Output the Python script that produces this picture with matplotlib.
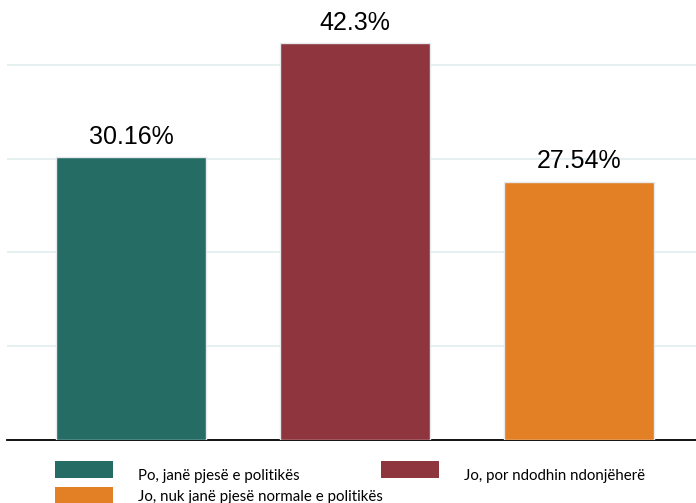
import matplotlib.pyplot as plt
from matplotlib.patches import Patch

# te dhenat
kategorite = ["Po, janë pjesë e politikës", "Jo, por ndodhin ndonjëherë",
              "Jo, nuk janë pjesë normale e politikës"]
vlerat = [30.16, 42.3, 27.54]
etiketat = ["30.16%", "42.3%", "27.54%"]
ngjyrat = ["#256d64", "#8e353d", "#e38025"]

fig = plt.figure(figsize=(6.96, 5.03), dpi=100)
ax = fig.add_axes([7 / 696, 63 / 503, 689 / 696, 440 / 503])

x = list(range(len(vlerat)))
ax.bar(x, vlerat, width=0.67, color=ngjyrat, edgecolor="#e6eaee", linewidth=1, zorder=3)

for xi, v, t in zip(x, vlerat, etiketat):
    ax.annotate(t, (xi, v), xytext=(0, 6), textcoords="offset points",
                ha="center", va="bottom", fontsize=18, family="Liberation Sans")

ax.set_xlim(-0.554, 2.522)
ax.set_ylim(0, 46.9)
ax.set_yticks([10, 20, 30, 40])
ax.yaxis.grid(True, color="#e6f0f0", linewidth=1.4, zorder=0)
ax.tick_params(left=False, bottom=False, labelleft=False, labelbottom=False)
for s in ["top", "right", "left"]:
    ax.spines[s].set_visible(False)
ax.spines["bottom"].set_linewidth(1.3)
ax.spines["bottom"].set_color("black")

# legjenda, nje hyrje per secilen pozite
pozitat = [(55 / 696, 1 - 474.5 / 503, 3.6), (381 / 696, 1 - 474.5 / 503, 3.6),
           (55 / 696, 1 - 495.5 / 503, 0)]
for kat, ngj, (px, py, zhv) in zip(kategorite, ngjyrat, pozitat):
    leg = fig.legend(handles=[Patch(facecolor=ngj, edgecolor="none")], labels=[kat],
                     loc="center left", bbox_to_anchor=(px, py), frameon=False,
                     borderpad=0, borderaxespad=0, handlelength=3.87, handleheight=1.27,
                     handletextpad=1.67, prop={"family": "Lato", "size": 10.8})
    h = leg.legend_handles[0]
    h.set_y(h.get_y() + zhv)

fig.savefig("out.png", dpi=100)
